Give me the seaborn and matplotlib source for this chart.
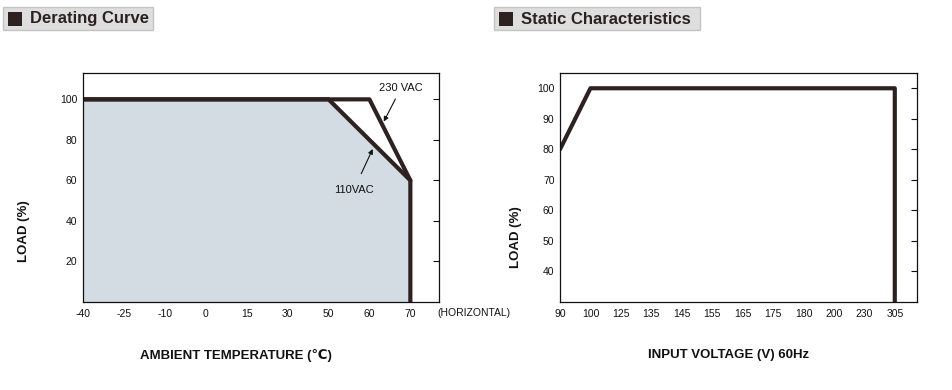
import numpy as np
import matplotlib
matplotlib.use('Agg')
import matplotlib.pyplot as plt
from matplotlib.patches import Rectangle
import seaborn as sns
import pandas as pd

sns.set_style('white')
plt.rcParams['font.family'] = ['Liberation Sans Narrow', 'Liberation Sans', 'DejaVu Sans']

# ---- data ----
temp_ticks = [-40, -25, -10, 0, 15, 30, 50, 60, 70]
temp_230 = [-40, 60, 70, 70]
load_230 = [100, 100, 60, 0]
temp_110 = [-40, 50, 70]
load_110 = [100, 100, 60]

volt_ticks = [90, 100, 125, 135, 145, 155, 165, 175, 180, 200, 230, 305]
volt = [90, 100, 305, 305]
load_volt = [80, 100, 100, 30]

line_c = '#2e2220'
fill_c = '#d3dce3'
W, H = 952, 390


def make_scale(ticks):
    # uneven tick spacing -> evenly spaced positions, linear extension at the ends
    t = np.asarray(ticks, float)
    idx = np.arange(len(t), dtype=float)

    def fwd(x):
        x = np.asarray(x, float)
        y = np.interp(x, t, idx)
        y = np.where(x < t[0], (x - t[0]) / (t[1] - t[0]), y)
        y = np.where(x > t[-1], idx[-1] + (x - t[-1]) / (t[-1] - t[-2]), y)
        return y

    def inv(y):
        y = np.asarray(y, float)
        x = np.interp(y, idx, t)
        x = np.where(y < 0, t[0] + y * (t[1] - t[0]), x)
        x = np.where(y > idx[-1], t[-1] + (y - idx[-1]) * (t[-1] - t[-2]), x)
        return x
    return fwd, inv


def style_axes(ax):
    for s in ax.spines.values():
        s.set_color('#111111')
        s.set_linewidth(0.9)
    ax.tick_params(axis='x', direction='in', length=4, width=0.8, labelsize=7.5,
                   colors='#111111', pad=5)
    ax.tick_params(axis='y', direction='in', length=4, width=0.8, labelsize=7.5,
                   colors='#111111', left=False, right=True, pad=4)


def title_box(fig, x0, x1, title):
    # grey box with dark square, pixel coords from the top-left corner
    fig.add_artist(Rectangle((x0 / W, 1 - 30 / H), (x1 - x0) / W, 23 / H,
                             transform=fig.transFigure, fc='#dedede',
                             ec='#c4c4c4', lw=1))
    fig.add_artist(Rectangle(((x0 + 4.5) / W, 1 - 26 / H), 14.5 / W, 14.5 / H,
                             transform=fig.transFigure, fc='#2e2220', lw=0))
    fig.text((x0 + 27) / W, 1 - 19 / H, title, fontsize=12, fontweight='bold',
             color='#2b2220', va='center', ha='left',
             family=['Liberation Sans', 'DejaVu Sans'])


fig = plt.figure(figsize=(W / 100, H / 100), dpi=100)

# ---- Derating Curve ----
ax1 = fig.add_axes([83 / W, 1 - 302 / H, 356 / W, 229 / H])
ax1.set_xscale('function', functions=make_scale(temp_ticks))
ax1.fill_between([-40, 50, 70, 70], [100, 100, 60, 0], 0, color=fill_c, lw=0)
sns.lineplot(x=temp_230, y=load_230, sort=False, ax=ax1, color=line_c, lw=3,
             estimator=None)
sns.lineplot(x=temp_110, y=load_110, sort=False, ax=ax1, color=line_c, lw=3,
             estimator=None)
ax1.set_xlim(-40, 77)
ax1.set_ylim(0, 113)
ax1.set_xticks(temp_ticks)
ax1.set_xticklabels([str(v) for v in temp_ticks])
ax1.set_yticks([20, 40, 60, 80, 100])
style_axes(ax1)
ax1.annotate('230 VAC', xy=(63.5, 89), xytext=(67.7, 105.5), ha='center', va='center',
             fontsize=8, color='#111111',
             arrowprops=dict(arrowstyle='-|>', color='#111111', lw=0.8,
                             mutation_scale=7, shrinkB=0, shrinkA=2))
ax1.annotate('110VAC', xy=(60.8, 75.5), xytext=(56.2, 55.5), ha='center', va='center',
             fontsize=8, color='#111111',
             arrowprops=dict(arrowstyle='-|>', color='#111111', lw=0.8,
                             mutation_scale=7, shrinkB=0, shrinkA=6))
ax1.text(0.996, -0.026, '(HORIZONTAL)', transform=ax1.transAxes, fontsize=7.5,
         color='#111111', va='top', ha='left')
ax1.set_ylabel('LOAD (%)', fontsize=9.5, fontweight='bold',
               family=['Liberation Sans', 'DejaVu Sans'], color='#111111')
ax1.yaxis.set_label_coords(-0.149, 0.31)
ax1.set_xlabel('AMBIENT TEMPERATURE (\u2103)', fontsize=9.5, fontweight='bold',
               color='#111111')
ax1.xaxis.set_label_coords(0.43, -0.205)

# ---- Static Characteristics ----
ax2 = fig.add_axes([560 / W, 1 - 302 / H, 357 / W, 229 / H])
ax2.set_xscale('function', functions=make_scale(volt_ticks))
sns.lineplot(x=volt, y=load_volt, sort=False, ax=ax2, color=line_c, lw=3,
             estimator=None)
ax2.set_xlim(90, 305 + 0.73 * 75)
ax2.set_ylim(30, 105)
ax2.set_xticks(volt_ticks)
ax2.set_xticklabels([str(v) for v in volt_ticks])
ax2.set_yticks([40, 50, 60, 70, 80, 90, 100])
style_axes(ax2)
ax2.set_ylabel('LOAD (%)', fontsize=9.5, fontweight='bold',
               family=['Liberation Sans', 'DejaVu Sans'], color='#111111')
ax2.yaxis.set_label_coords(-0.106, 0.284)
ax2.set_xlabel('INPUT VOLTAGE (V) 60Hz', fontsize=9.5, fontweight='bold',
               color='#111111')
ax2.xaxis.set_label_coords(0.473, -0.205)

# ---- title boxes ----
title_box(fig, 3, 153, 'Derating Curve')
title_box(fig, 494, 700, 'Static Characteristics')

fig.savefig('out.png', dpi=100)
